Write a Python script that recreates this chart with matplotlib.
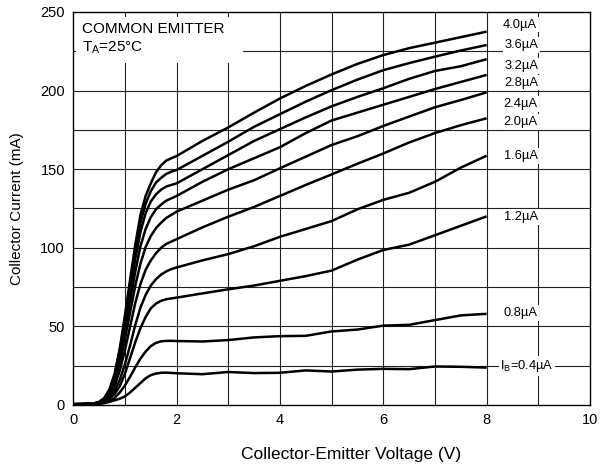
import matplotlib
matplotlib.use("Agg")
import matplotlib.pyplot as plt
from matplotlib.patches import Rectangle

plt.rcParams['font.family'] = ['Liberation Sans', 'DejaVu Sans']
plt.rcParams['mathtext.fontset'] = 'custom'
plt.rcParams['mathtext.rm'] = 'Liberation Sans'
plt.rcParams['mathtext.it'] = 'Liberation Sans'

# Collector-emitter voltage (V)
vce = [0, 0.2, 0.4, 0.5, 0.6, 0.7, 0.8, 0.9, 1.0, 1.1, 1.2, 1.3, 1.4, 1.5, 1.6, 1.7,
       1.8, 1.9, 2.0, 2.5, 3.0, 3.5, 4.0, 4.5, 5.0, 5.5, 6.0, 6.5, 7.0, 7.5, 8.0]

# Collector current (mA) for each base current
ic_4_0 = [0.5, 0.6, 1, 2, 4.5, 10, 20, 36, 57, 80, 102, 121, 133, 141, 148, 152.5,
          155.5, 157, 158.4, 168, 176.6, 186, 195, 203, 210.3, 217, 222.6, 227, 230.5, 234, 237.5]
ic_3_6 = [0.5, 0.6, 1, 1.8, 4, 9, 19, 35, 55, 77, 98, 116, 128, 136, 141.5, 144.5,
          147, 148.5, 149.5, 158.5, 167.5, 177, 185, 193, 200.3, 207, 213, 217.5, 221.6, 225.5, 229]
ic_3_2 = [0.5, 0.6, 1, 1.7, 3.8, 8.5, 18, 33, 52, 72, 93, 110, 122, 129.5, 134, 137,
          139, 140, 141, 150, 159, 168, 175.5, 183, 190, 196, 201.5, 207.5, 212.5, 215.5, 220]
ic_2_8 = [0.5, 0.6, 0.9, 1.6, 3.5, 8, 17, 30, 47, 66, 85, 101, 112, 119.5, 124.5, 127.5,
          130, 131.5, 133, 142, 150, 157, 164, 173, 181, 186, 191, 196, 201, 205.5, 210]
ic_2_4 = [0.5, 0.6, 0.9, 1.5, 3.2, 7.5, 15, 27, 42, 59, 76, 90, 100.5, 107.5, 112.5, 116,
          119, 121, 123, 130, 137, 143, 150.6, 158, 165.4, 171, 177.5, 183.5, 189.4, 194, 198.9]
ic_2_0 = [0.5, 0.6, 0.9, 1.4, 3, 6.5, 12, 22, 35, 50, 65, 77, 86, 92, 96.5, 100,
          102.5, 104, 105.5, 113, 119.8, 126, 133, 140, 146.7, 153.5, 160, 167, 173, 178, 182.4]
ic_1_6 = [0.5, 0.6, 0.8, 1.3, 2.7, 5.5, 9, 16, 26, 38, 51, 62, 70, 76, 80, 83,
          85, 86.5, 87.5, 92, 96, 101, 107, 112, 117, 124.5, 130.5, 135, 142, 151, 158.6]
ic_1_2 = [0.5, 0.5, 0.7, 1.1, 2.2, 4, 7, 12, 20, 30, 40, 49, 56, 61.5, 64.5, 66.3,
          67.3, 67.8, 68.3, 71, 73.6, 76, 79, 82, 85.5, 92.5, 98.6, 102, 108, 114, 120]
ic_0_8 = [0.5, 0.5, 0.6, 0.9, 1.5, 2.5, 4.5, 8, 12.5, 18, 24, 29.5, 34, 37.5, 39.5, 40.5,
          40.8, 40.8, 40.7, 40.4, 41.3, 43, 43.8, 44, 46.8, 48, 50.5, 51, 54, 57, 58]
ic_0_4 = [0.5, 0.5, 0.6, 0.8, 1.2, 2, 3, 4, 5.5, 8, 11, 14, 17, 19, 20, 20.5,
          20.6, 20.4, 20.2, 19.6, 21, 20.3, 20.5, 22, 21.3, 22.5, 23, 22.8, 24.5, 24.3, 23.8]

curves = [ic_4_0, ic_3_6, ic_3_2, ic_2_8, ic_2_4, ic_2_0, ic_1_6, ic_1_2, ic_0_8, ic_0_4]
labels = ['4.0µA', '3.6µA', '3.2µA', '2.8µA', '2.4µA', '2.0µA', '1.6µA', '1.2µA', '0.8µA',
          r'I$_\mathregular{B}$=0.4µA']
label_x = [8.65, 8.67, 8.67, 8.67, 8.65, 8.65, 8.67, 8.67, 8.65, 8.78]
label_y = [242, 229, 215.6, 205, 191.5, 180, 158.4, 119.6, 58.5, 24.8]

x_ticks = [0, 2, 4, 6, 8, 10]
y_ticks = [0, 50, 100, 150, 200, 250]

fig = plt.figure(figsize=(6.0, 4.72), dpi=100)
ax = fig.add_axes([73.3 / 600, 67 / 472, 516.7 / 600, 393 / 472])
ax.set_xlim(0, 10)
ax.set_ylim(0, 250)

# grid every 1 V and 25 mA
for gx in range(1, 10):
    ax.axvline(gx, color='#222222', lw=0.8, zorder=1)
for gy in range(25, 250, 25):
    ax.axhline(gy, color='#222222', lw=0.8, zorder=1)

# white box behind the header text
ax.add_patch(Rectangle((0.05, 217.6), 3.23, 29.2, facecolor='white', edgecolor='none', zorder=2))
ax.text(0.16, 239.3, 'COMMON EMITTER', fontsize=11, ha='left', va='center', zorder=5)
ax.text(0.16, 227.3, r'T$_\mathregular{A}$=25°C', fontsize=11, ha='left', va='center', zorder=5)

for ic in curves:
    ax.plot(vce, ic, color='black', lw=1.8, solid_joinstyle='round', solid_capstyle='butt', zorder=3)

for lab, lx, ly in zip(labels, label_x, label_y):
    ax.text(lx, ly, lab, fontsize=9.3, ha='center', va='center', zorder=5,
            bbox=dict(facecolor='white', edgecolor='none', pad=1.2))

ax.set_xticks(x_ticks)
ax.set_yticks(y_ticks)
ax.tick_params(length=0, labelsize=10.5, pad=6)
for s in ax.spines.values():
    s.set_linewidth(1.0)
    s.set_color('black')
    s.set_zorder(6)

ax.set_xlabel('Collector-Emitter Voltage (V)', fontsize=12.5, labelpad=14)
ax.xaxis.set_label_coords((351 - 73.3) / 516.7, -42 / 393)
ax.set_ylabel('Collector Current (mA)', fontsize=11, labelpad=12)

fig.savefig('out.png', dpi=100)
